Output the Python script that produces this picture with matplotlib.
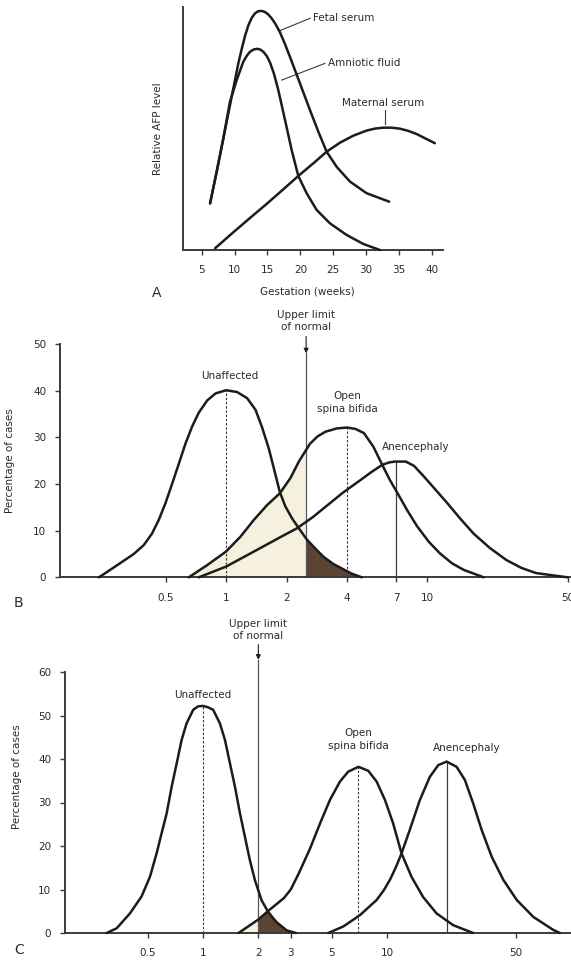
import numpy as np
import matplotlib
matplotlib.use('Agg')
import matplotlib.pyplot as plt
from matplotlib.patches import Polygon, Rectangle
from matplotlib.ticker import FixedLocator, FixedFormatter, NullLocator

plt.rcParams['font.family'] = ['DejaVu Sans']

# ---------------- Panel A data (gestation weeks, relative AFP level) ----------------
a_ticks = [5, 10, 15, 20, 25, 30, 35, 40]
a_fetal_wk = [6.27, 7.28, 8.29, 9.56, 10.57, 11.1, 11.6, 12.1, 12.6, 13.1, 13.6, 14.1,
              14.6, 15.1, 15.6, 16.2, 16.9, 17.6, 18.42, 19.94, 21.46, 22.73, 24.0,
              25.52, 27.54, 30.08, 33.52]
a_fetal_lv = [19.2, 32.3, 46.0, 63.2, 76.9, 83.0, 88.3, 92.6, 95.6, 97.5, 98.4, 98.5,
              98.1, 97.1, 95.6, 93.2, 89.7, 85.3, 79.6, 68.7, 57.7, 48.8, 40.5,
              34.3, 28.2, 23.4, 19.9]
a_amnio_wk = [6.27, 7.28, 8.29, 9.3, 10.32, 11.33, 11.85, 12.35, 12.9, 13.4, 13.9,
              14.4, 14.9, 15.4, 16.0, 16.65, 17.67, 18.68, 19.69, 20.96, 22.48, 24.5,
              27.04, 29.57, 32.1]
a_amnio_lv = [19.2, 32.3, 46.0, 61.1, 70.0, 77.6, 80.0, 81.7, 82.6, 82.9, 82.6,
              81.6, 79.9, 77.2, 72.5, 65.9, 53.6, 41.2, 30.5, 23.4, 16.5, 11.0,
              6.2, 2.5, 0.0]
a_mat_wk = [7.03, 9.81, 12.35, 14.88, 17.41, 19.69, 21.97, 24.0, 26.02, 28.05,
            30.08, 31.3, 32.61, 33.9, 35.14, 36.4, 37.68, 40.46]
a_mat_lv = [0.7, 7.3, 13.2, 19.0, 25.0, 30.5, 35.7, 40.5, 44.2, 47.1,
            49.2, 50.0, 50.4, 50.4, 50.0, 49.1, 47.8, 44.0]

# ---------------- Panel B data (MoM, percentage of cases) ----------------
b_ticks = [0.5, 1, 2, 4, 7, 10, 50]
b_tick_labels = ['0.5', '1', '2', '4', '7', '10', '50']
b_unaff_x = [0.233, 0.287, 0.347, 0.389, 0.428, 0.462, 0.499, 0.539, 0.582, 0.628,
             0.677, 0.731, 0.805, 0.885, 1.0, 1.134, 1.271, 1.4, 1.51, 1.63, 1.74,
             1.849, 1.97, 2.13, 2.30, 2.52, 2.8, 3.05, 3.4, 3.76, 4.2, 4.73]
b_unaff_y = [0, 2.6, 5.0, 6.9, 9.4, 12.3, 15.9, 20.1, 24.4, 28.7,
             32.3, 35.3, 37.9, 39.4, 40.1, 39.7, 38.4, 35.9, 32.1, 27.6, 22.8,
             18.3, 15.2, 12.6, 10.5, 8.1, 6.0, 4.4, 2.9, 1.9, 0.8, 0]
b_sb_x = [0.652, 0.804, 0.997, 1.178, 1.373, 1.6, 1.85, 2.09, 2.3, 2.61, 2.85, 3.12,
          3.55, 4.0, 4.4, 4.85, 5.4, 5.98, 6.5, 7.13, 8.0, 8.93, 10.2, 11.6, 13.3,
          15.2, 19.1]
b_sb_y = [0, 2.6, 5.5, 8.7, 12.3, 15.5, 18.0, 21.3, 24.8, 28.6, 30.2, 31.2,
          31.9, 32.1, 31.8, 30.9, 28.0, 24.1, 21.0, 18.0, 14.2, 10.9, 7.6, 5.1, 3.0,
          1.6, 0]
b_an_x = [0.731, 1.0, 1.427, 1.86, 2.25, 2.7, 3.12, 3.8, 4.68, 5.3, 5.98, 6.45, 6.89,
          7.83, 8.6, 9.64, 11.0, 12.6, 14.6, 17.0, 20.5, 24.8, 29.5, 34.9, 50.0]
b_an_y = [0, 2.3, 5.9, 8.6, 10.5, 12.9, 15.1, 18.1, 20.9, 22.6, 24.1, 24.6, 24.8,
          24.8, 23.9, 21.6, 18.8, 15.9, 12.6, 9.4, 6.3, 3.7, 2.0, 0.9, 0]
b_limit = 2.5
b_marker_x = [1.0, 4.0, 7.0]
b_marker_top = [40.1, 32.1, 24.8]

# ---------------- Panel C data ----------------
c_ticks = [0.5, 1, 2, 3, 5, 10, 50]
c_tick_labels = ['0.5', '1', '2', '3', '5', '10', '50']
c_unaff_x = [0.30, 0.340, 0.401, 0.464, 0.515, 0.56, 0.596, 0.635, 0.676, 0.72, 0.766,
             0.815, 0.885, 0.94, 1.0, 1.065, 1.137, 1.236, 1.317, 1.402, 1.493, 1.589,
             1.691, 1.80, 1.917, 2.084, 2.265, 2.51, 2.85, 3.2]
c_unaff_y = [0, 1.1, 4.5, 8.4, 12.9, 18.3, 22.9, 27.5, 33.6, 39.0, 44.4,
             48.2, 51.3, 52.1, 52.2, 51.9, 51.3, 48.2, 44.4, 39.0, 33.6, 27.5,
             22.1, 16.7, 12.1, 7.5, 4.8, 2.5, 0.6, 0]
c_sb_x = [1.56, 2.0, 2.28, 2.75, 3.0, 3.3, 3.81, 4.33, 4.9, 5.55, 6.16, 7.0, 7.91,
          8.79, 9.75, 10.8, 12.0, 13.6, 15.7, 18.6, 22.9, 29.4]
c_sb_y = [0, 3.1, 5.2, 8.0, 10.0, 13.5, 19.3, 25.2, 30.6, 34.8, 37.1, 38.2, 37.3,
          34.8, 30.6, 25.2, 18.3, 12.9, 8.3, 4.5, 1.8, 0]
c_an_x = [4.8, 5.79, 7.13, 8.79, 9.6, 10.4, 11.2, 12.0, 13.3, 15.1, 17.1, 19.0, 21.1,
          23.9, 26.5, 29.4, 32.7, 37.1, 42.9, 50.7, 62.4, 80.2, 87.0]
c_an_y = [0, 1.5, 4.1, 7.6, 9.8, 12.3, 15.2, 18.3, 23.7, 30.6, 35.9, 38.6, 39.4,
          38.2, 35.2, 29.8, 23.7, 17.5, 12.2, 7.6, 3.7, 0.7, 0]
c_limit = 2.0
c_marker_x = [1.0, 7.0, 21.1]
c_marker_top = [52.2, 38.2, 39.4]

# ---------------- styling ----------------
W, H = 571, 965
INK = '#1c1c1c'
AX = '#3a3a3a'
TXT = '#2a2a2a'
CREAM = '#f6f0df'
BROWN = '#5c4434'
FS = 7.5

fig = plt.figure(figsize=(W / 100, H / 100), dpi=100)


def ax_px(l, r, top, bottom):
    return fig.add_axes([l / W, 1 - bottom / H, (r - l) / W, (bottom - top) / H])


def style_axes(ax):
    for s in ['top', 'right']:
        ax.spines[s].set_visible(False)
    for s in ['left', 'bottom']:
        ax.spines[s].set_linewidth(1.4)
        ax.spines[s].set_color(AX)
    ax.tick_params(axis='both', colors=AX, labelcolor=TXT, labelsize=FS,
                   width=1.0, length=3.5)
    ax.tick_params(axis='x', pad=7.5)
    ax.tick_params(axis='y', pad=6.5)


def curve(ax, x, y):
    ax.plot(x, y, color=INK, lw=1.8, solid_joinstyle='round',
            solid_capstyle='round', zorder=4, clip_on=False)

# ---------------- Panel A ----------------
axA = ax_px(183.3, 443, 7.3, 250)
style_axes(axA)
axA.set_xlim(2.2, 41.7)
axA.set_ylim(0, 100)
axA.set_xticks(a_ticks)
axA.set_yticks([])
curve(axA, a_fetal_wk, a_fetal_lv)
curve(axA, a_amnio_wk, a_amnio_lv)
curve(axA, a_mat_wk, a_mat_lv)
axA.plot([16.9, 21.5], [90.4, 95.5], color=AX, lw=0.8)
axA.text(22.0, 95.5, 'Fetal serum', fontsize=FS, color=TXT, ha='left', va='center')
axA.plot([17.16, 23.74], [70.0, 76.9], color=AX, lw=0.8)
axA.text(24.25, 77.2, 'Amniotic fluid', fontsize=FS, color=TXT, ha='left', va='center')
axA.plot([32.86, 32.86], [51.9, 57.7], color=AX, lw=0.8)
axA.text(32.6, 60.4, 'Maternal serum', fontsize=FS, color=TXT, ha='center', va='center')
axA.set_xlabel('Gestation (weeks)', fontsize=FS, color=TXT)
axA.xaxis.set_label_coords(0.476, -0.152)
axA.set_ylabel('Relative AFP level', fontsize=FS, color=TXT)
axA.yaxis.set_label_coords(-0.078, 0.5)


def dist_panel(ax, xlim, ylim, yticks, xt, xtl, ux, uy, sx, sy, nx, ny,
               limit, mx, mtop, mstyles, lim_top, arrow_top, text_y, labels):
    style_axes(ax)
    ax.set_xscale('log')
    ax.set_xlim(*xlim)
    ax.set_ylim(*ylim)
    ax.set_yticks(yticks)
    ax.xaxis.set_major_locator(FixedLocator(xt))
    ax.xaxis.set_major_formatter(FixedFormatter(xtl))
    ax.xaxis.set_minor_locator(NullLocator())
    # shading: overlap beyond the upper limit (dark), spina bifida below it (cream)
    sb_poly = Polygon(np.column_stack([sx, sy]), closed=True, transform=ax.transData)
    dark = ax.fill_between(ux, 0, uy, color=BROWN, lw=0, zorder=1)
    dark.set_clip_path(sb_poly)
    cream = ax.fill_between(sx, 0, sy, color=CREAM, lw=0, zorder=1.5)
    rect = Rectangle((xlim[0], 0), limit - xlim[0], ylim[1], transform=ax.transData)
    cream.set_clip_path(rect)
    # peak markers
    for x, t, st in zip(mx, mtop, mstyles):
        if st == 'dashed':
            ax.plot([x, x], [0, t], color=AX, lw=0.8, ls=(0, (2.2, 1.6)), zorder=2)
        else:
            ax.plot([x, x], [0, t], color=AX, lw=0.9, zorder=2)
    # upper limit of normal
    ax.plot([limit, limit], [0, lim_top], color='#555555', lw=0.9, zorder=2, clip_on=False)
    ax.annotate('', xy=(limit, lim_top), xytext=(limit, arrow_top),
                arrowprops=dict(arrowstyle='-|>', color=INK, lw=0.8,
                                mutation_scale=7, shrinkA=0, shrinkB=0),
                annotation_clip=False)
    ax.text(limit, text_y, 'Upper limit\nof normal', fontsize=FS, color=TXT,
            ha='center', va='bottom', linespacing=1.2, clip_on=False)
    curve(ax, ux, uy)
    curve(ax, sx, sy)
    curve(ax, nx, ny)
    for (tx, ty, s) in labels:
        ax.text(tx, ty, s, fontsize=FS, color=TXT, ha='center', va='center',
                linespacing=1.35)
    ax.set_ylabel('Percentage of cases', fontsize=FS, color=TXT)

# ---------------- Panel B ----------------
axB = ax_px(60, 571, 344, 577.3)
dist_panel(axB, (0.149, 52.0), (0, 50), [0, 10, 20, 30, 40, 50], b_ticks, b_tick_labels,
           b_unaff_x, b_unaff_y, b_sb_x, b_sb_y, b_an_x, b_an_y,
           b_limit, b_marker_x, b_marker_top, ['dashed', 'dashed', 'solid'],
           48.0, 51.6, 52.6,
           [(1.04, 43.1, 'Unaffected'), (4.0, 37.5, 'Open\nspina bifida'),
            (8.78, 27.9, 'Anencephaly')])
axB.yaxis.set_label_coords(-0.088, 0.5)

# ---------------- Panel C ----------------
axC = ax_px(65, 571, 672, 933)
dist_panel(axC, (0.178, 100.0), (0, 60), [0, 10, 20, 30, 40, 50, 60], c_ticks, c_tick_labels,
           c_unaff_x, c_unaff_y, c_sb_x, c_sb_y, c_an_x, c_an_y,
           c_limit, c_marker_x, c_marker_top, ['dashed', 'dashed', 'solid'],
           62.8, 66.3, 67.2,
           [(1.0, 54.7, 'Unaffected'), (7.0, 44.4, 'Open\nspina bifida'),
            (27.1, 42.5, 'Anencephaly')])
axC.yaxis.set_label_coords(-0.085, 0.6)

# panel letters
fig.text(152 / W, 1 - 293 / H, 'A', fontsize=10, color=TXT, ha='left', va='center')
fig.text(14 / W, 1 - 603 / H, 'B', fontsize=10, color=TXT, ha='left', va='center')
fig.text(14 / W, 1 - 950 / H, 'C', fontsize=10, color=TXT, ha='left', va='center')

fig.savefig('out.png', dpi=100, facecolor='white')
